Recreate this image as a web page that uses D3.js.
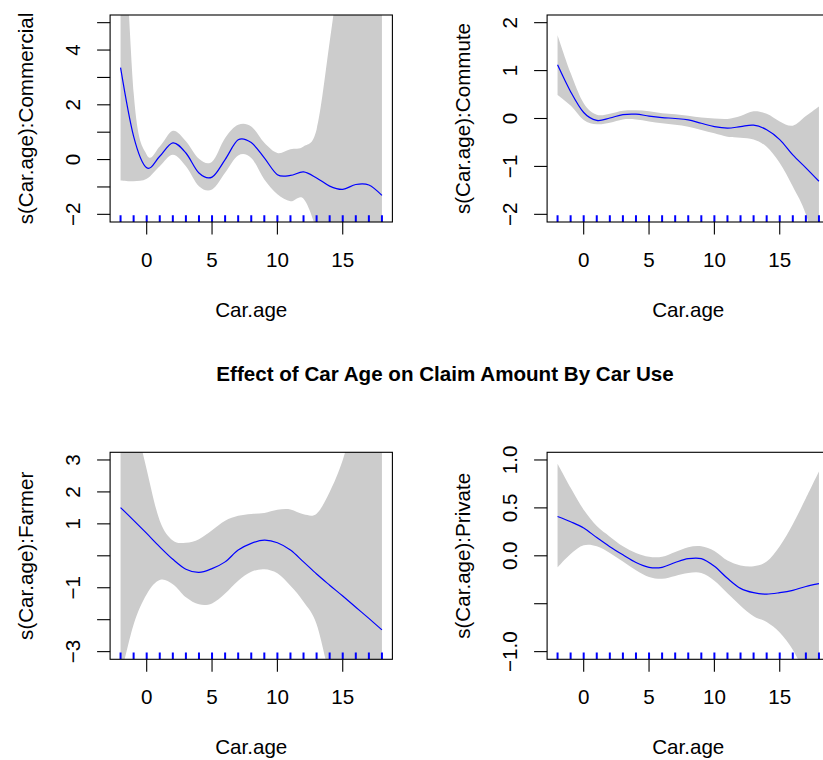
<!DOCTYPE html>
<html><head><meta charset="utf-8">
<script src="https://cdn.jsdelivr.net/npm/d3@7/dist/d3.min.js"></script>
<style>
body{margin:0;background:#fff}
svg{display:block}
text{font-family:"Liberation Sans",Arial,Helvetica,sans-serif;fill:#000}
</style>
</head><body>
<svg id="chart" width="823" height="760"></svg>
<script>
// ---------- data ----------
const carAge = [-2,-1,0,1,2,3,4,5,6,7,8,9,10,11,12,13,14,15,16,17,18];

const commercialFit   = [3.36,0.85,-0.30,0.12,0.61,0.24,-0.49,-0.64,0.00,0.72,0.62,0.06,-0.55,-0.58,-0.45,-0.67,-0.97,-1.09,-0.91,-0.93,-1.31];
const commercialUpper = [12,2.45,0.18,0.48,1.05,0.67,0.03,-0.08,0.79,1.27,1.21,0.61,0.24,0.38,0.48,1.10,4.30,8,13,19,26];
const commercialLower = [-0.76,-0.79,-0.70,-0.24,0.18,-0.24,-0.97,-1.09,-0.48,0.15,0.06,-0.73,-1.27,-1.52,-1.43,-2.6,-4.5,-7,-10,-14,-19];

const commuteFit   = [1.12,0.56,0.125,-0.04,0.01,0.08,0.09,0.05,0.02,0.00,-0.03,-0.10,-0.17,-0.20,-0.17,-0.14,-0.235,-0.44,-0.76,-1.03,-1.31];
const commuteUpper = [1.74,0.95,0.32,0.08,0.10,0.16,0.17,0.15,0.11,0.09,0.06,0.02,0.00,-0.01,0.05,0.15,0.10,-0.06,-0.15,0.05,0.25];
const commuteLower = [0.49,0.27,-0.03,-0.12,-0.09,-0.02,-0.02,-0.06,-0.10,-0.13,-0.17,-0.24,-0.31,-0.38,-0.40,-0.44,-0.59,-0.93,-1.42,-2.0,-3.0];

const farmerFit   = [1.51,1.11,0.70,0.28,-0.11,-0.42,-0.52,-0.40,-0.19,0.18,0.39,0.49,0.41,0.18,-0.19,-0.57,-0.92,-1.26,-1.61,-1.96,-2.32];
const farmerUpper = [7.5,4.6,2.7,1.1,0.48,0.41,0.52,0.80,1.10,1.25,1.31,1.34,1.44,1.45,1.30,1.32,2.0,3.0,4.5,6.5,9];
const farmerLower = [-3.8,-2.15,-1.2,-0.76,-0.89,-1.30,-1.52,-1.49,-1.18,-0.78,-0.50,-0.42,-0.55,-0.94,-1.44,-2.14,-3.8,-5.5,-7.5,-9.5,-12];

const privateFit   = [0.41,0.355,0.29,0.19,0.095,0.01,-0.07,-0.12,-0.12,-0.07,-0.03,-0.03,-0.11,-0.235,-0.34,-0.385,-0.40,-0.385,-0.36,-0.32,-0.29];
const privateUpper = [0.96,0.71,0.48,0.31,0.20,0.10,0.03,-0.01,-0.01,0.04,0.09,0.10,0.05,-0.05,-0.10,-0.11,-0.06,0.10,0.33,0.60,0.88];
const privateLower = [-0.12,0.02,0.11,0.10,0.03,-0.06,-0.15,-0.22,-0.24,-0.21,-0.18,-0.18,-0.26,-0.39,-0.52,-0.63,-0.69,-0.80,-0.98,-1.25,-1.55];

const rugAges = [-2,-1,0,1,2,3,4,5,6,7,8,9,10,11,12,13,14,15,16,17,18];

const panelNames = ["Commercial","Commute","Farmer","Private"];
const xLimits = [-2,18];
const yLimits = [[-2,5],[-2,2],[-3,3],[-1,1]];
const xTicks = [0,5,10,15];
const xTickLabels = ["0","5","10","15"];
const yTicks = [[-2,-1,0,1,2,3,4,5],[-2,-1,0,1,2],[-3,-2,-1,0,1,2,3],[-1,-0.5,0,0.5,1]];
const yTickLabels = [["\u22122","","0","","2","","4",""],
                     ["\u22122","\u22121","0","1","2"],
                     ["\u22123","","\u22121","","1","2","3"],
                     ["\u22121.0","","0.0","0.5","1.0"]];
const xTitle = "Car.age";
const mainTitle = "Effect of Car Age on Claim Amount By Car Use";

// ---------- layout ----------
const svg = d3.select("#chart");
const colLeft = [110.1, 547.1];
const rowTop = [15, 452.3];
const boxW = 282.3, boxH = 207;
const fontSize = 20.6;

const fits = [commercialFit, commuteFit, farmerFit, privateFit];
const uppers = [commercialUpper, commuteUpper, farmerUpper, privateUpper];
const lowers = [commercialLower, commuteLower, farmerLower, privateLower];

function expand(lim){ const d=(lim[1]-lim[0])*0.04; return [lim[0]-d, lim[1]+d]; }

panelNames.forEach((name, p) => {
  const left = colLeft[p % 2], top = rowTop[Math.floor(p / 2)];
  const x = d3.scaleLinear().domain(expand(xLimits)).range([left, left + boxW]);
  const y = d3.scaleLinear().domain(expand(yLimits[p])).range([top + boxH, top]);
  const g = svg.append("g");
  const clipId = "clip" + p;
  svg.append("clipPath").attr("id", clipId).append("rect")
    .attr("x", left).attr("y", top).attr("width", boxW).attr("height", boxH);
  const plot = g.append("g").attr("clip-path", `url(#${clipId})`);

  const idx = d3.range(carAge.length);
  const curve = d3.curveCatmullRom.alpha(0);
  plot.append("path")
    .attr("d", d3.area().x(i => x(carAge[i])).y0(i => y(lowers[p][i])).y1(i => y(uppers[p][i])).curve(curve)(idx))
    .attr("fill", "#cccccc").attr("stroke", "none");
  plot.append("path")
    .attr("d", d3.line().x(i => x(carAge[i])).y(i => y(fits[p][i])).curve(curve)(idx))
    .attr("fill", "none").attr("stroke", "#0000ff").attr("stroke-width", 1.2);
  plot.selectAll("line.rug").data(rugAges).enter().append("line")
    .attr("x1", d => x(d)).attr("x2", d => x(d))
    .attr("y1", top + boxH).attr("y2", top + boxH - 6.7)
    .attr("stroke", "#0000ff").attr("stroke-width", 2);

  // box
  g.append("rect").attr("x", left).attr("y", top).attr("width", boxW).attr("height", boxH)
    .attr("fill", "none").attr("stroke", "#000").attr("stroke-width", 1.1);

  // x axis
  const bottom = top + boxH;
  xTicks.forEach((t, i) => {
    g.append("line").attr("x1", x(t)).attr("x2", x(t)).attr("y1", bottom).attr("y2", bottom + 12.5)
      .attr("stroke", "#000").attr("stroke-width", 1.1);
    g.append("text").attr("x", x(t)).attr("y", bottom + 44.7).attr("text-anchor", "middle")
      .attr("font-size", fontSize).text(xTickLabels[i]);
  });
  g.append("text").attr("x", left + boxW / 2).attr("y", bottom + 94.7).attr("text-anchor", "middle")
    .attr("font-size", fontSize).text(xTitle);

  // y axis
  yTicks[p].forEach((t, i) => {
    g.append("line").attr("x1", left - 13).attr("x2", left).attr("y1", y(t)).attr("y2", y(t))
      .attr("stroke", "#000").attr("stroke-width", 1.1);
    if (yTickLabels[p][i]) {
      g.append("text").attr("transform", `translate(${left - 30},${y(t)}) rotate(-90)`)
        .attr("text-anchor", "middle").attr("font-size", fontSize).text(yTickLabels[p][i]);
    }
  });
  g.append("text").attr("transform", `translate(${left - 77.5},${top + boxH / 2}) rotate(-90)`)
    .attr("text-anchor", "middle").attr("font-size", fontSize).text(`s(Car.age):${name}`);
});

svg.append("text").attr("x", 445).attr("y", 380.7).attr("text-anchor", "middle")
  .attr("font-size", fontSize).attr("font-weight", "bold").text(mainTitle);
</script>
</body></html>
